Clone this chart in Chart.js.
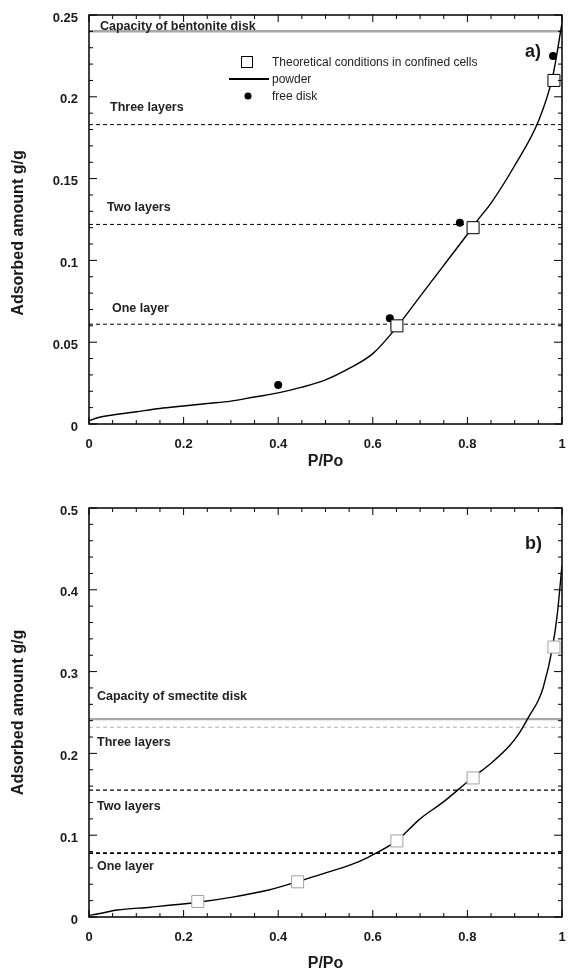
<!DOCTYPE html>
<html><head><meta charset="utf-8">
<script src="https://cdn.jsdelivr.net/npm/chart.js@4/dist/chart.umd.min.js"></script>
<style>html,body{margin:0;padding:0;background:#fff;} canvas{display:block;}</style>
</head><body>
<canvas id="ca" width="568" height="485"></canvas>
<canvas id="cb" width="568" height="486"></canvas>
<script>
// ---------- DATA ----------
const xTickLabels = ['0','0.2','0.4','0.6','0.8','1'];
const yTickLabelsA = ['0','0.05','0.1','0.15','0.2','0.25'];
const yTickLabelsB = ['0','0.1','0.2','0.3','0.4','0.5'];

// panel a)
const powderA_x = [0, 0.02, 0.05, 0.1, 0.15, 0.2, 0.25, 0.3, 0.35, 0.4, 0.45, 0.5, 0.55, 0.6, 0.65, 0.7, 0.75, 0.8, 0.82, 0.85, 0.9, 0.95, 0.98, 1.0];
const powderA_y = [0.002, 0.004, 0.0055, 0.0075, 0.0095, 0.011, 0.0125, 0.014, 0.0165, 0.019, 0.0225, 0.027, 0.034, 0.043, 0.059, 0.078, 0.097, 0.116, 0.124, 0.135, 0.158, 0.185, 0.212, 0.245];
const confinedA_x = [0.651, 0.812, 0.983];
const confinedA_y = [0.060, 0.120, 0.210];
const freeDiskA_x = [0.400, 0.636, 0.784, 0.981];
const freeDiskA_y = [0.0238, 0.0646, 0.123, 0.225];
const levelNamesA = ['Capacity of bentonite disk', 'Three layers', 'Two layers', 'One layer'];
const levelValuesA = [0.240, 0.183, 0.122, 0.061];

// panel b)
const powderB_x = [0, 0.02, 0.06, 0.13, 0.23, 0.3, 0.38, 0.44, 0.5, 0.55, 0.59, 0.65, 0.7, 0.75, 0.81, 0.85, 0.89, 0.91, 0.93, 0.95, 0.96, 0.98, 0.99, 1.0];
const powderB_y = [0.002, 0.004, 0.0085, 0.012, 0.018, 0.024, 0.033, 0.043, 0.054, 0.063, 0.073, 0.093, 0.120, 0.141, 0.170, 0.188, 0.210, 0.225, 0.245, 0.265, 0.280, 0.330, 0.370, 0.430];
const confinedB_x = [0.230, 0.441, 0.651, 0.812, 0.983];
const confinedB_y = [0.019, 0.043, 0.093, 0.170, 0.330];
const levelNamesB = ['Capacity of smectite disk', 'Three layers', 'Two layers', 'One layer'];
const levelValuesB = [0.242, 0.232, 0.155, 0.078];

// ---------- STYLE ----------
const FONT = '"Liberation Sans", Arial, Helvetica, sans-serif';
const TXT = '#1a1a1a';
const pts = (xs, ys) => xs.map((x, i) => ({x: x, y: ys[i]}));
const hline = v => [{x: 0, y: v}, {x: 1, y: v}];

const levelStylesA = [
  {borderColor: '#a8a8a8', borderWidth: 2.5, borderDash: []},
  {borderColor: '#000', borderWidth: 1, borderDash: [4, 3]},
  {borderColor: '#000', borderWidth: 1, borderDash: [4, 3]},
  {borderColor: '#000', borderWidth: 1, borderDash: [4, 3]}
];
const levelStylesB = [
  {borderColor: '#a8a8a8', borderWidth: 2.2, borderDash: []},
  {borderColor: '#b0b0b0', borderWidth: 1, borderDash: [4, 3]},
  {borderColor: '#000', borderWidth: 1.2, borderDash: [4, 3]},
  {borderColor: '#000', borderWidth: 1.8, borderDash: [4, 3]}
];
// label placement: px from chart-area left, px offset of text centre from line
const labelPlaceA = [{dx: 11, dy: -5}, {dx: 21, dy: -17}, {dx: 18, dy: -17}, {dx: 23, dy: -16}];
const labelPlaceB = [{dx: 8, dy: -22}, {dx: 8, dy: 15}, {dx: 8, dy: 16}, {dx: 8, dy: 13}];

const decorPlugin = {
  id: 'decor',
  afterDraw(chart, args, o) {
    const ctx = chart.ctx, a = chart.chartArea;
    const xs = chart.scales.x, ys = chart.scales.y;
    ctx.save();
    // level labels
    ctx.font = 'bold 12.5px ' + FONT;
    ctx.fillStyle = '#222';
    ctx.textAlign = 'left';
    ctx.textBaseline = 'middle';
    o.levelNames.forEach((t, i) => {
      const py = ys.getPixelForValue(o.levelValues[i]);
      ctx.fillText(t, a.left + o.labelPlace[i].dx, py + o.labelPlace[i].dy);
    });
    // frame
    ctx.strokeStyle = '#000';
    ctx.lineWidth = 1.5;
    ctx.setLineDash([]);
    ctx.strokeRect(a.left, a.top, a.right - a.left, a.bottom - a.top);
    // ticks (inward, all four sides)
    ctx.lineWidth = 1;
    ctx.beginPath();
    const nx = Math.round((xs.max - xs.min) / o.xMinor);
    for (let i = 0; i <= nx; i++) {
      const v = xs.min + i * o.xMinor;
      const p = xs.getPixelForValue(v);
      const major = (i % Math.round(o.xMajor / o.xMinor)) === 0;
      const L = major ? 7 : 4;
      ctx.moveTo(p, a.bottom); ctx.lineTo(p, a.bottom - L);
      ctx.moveTo(p, a.top); ctx.lineTo(p, a.top + L);
    }
    const ny = Math.round((ys.max - ys.min) / o.yMinor);
    for (let i = 0; i <= ny; i++) {
      const v = ys.min + i * o.yMinor;
      const p = ys.getPixelForValue(v);
      const major = (i % Math.round(o.yMajor / o.yMinor)) === 0;
      const L = major ? 8 : 4;
      ctx.moveTo(a.left, p); ctx.lineTo(a.left + L, p);
      ctx.moveTo(a.right, p); ctx.lineTo(a.right - L, p);
    }
    ctx.stroke();
    // panel tag
    ctx.font = 'bold 18px ' + FONT;
    ctx.fillStyle = TXT;
    ctx.textAlign = 'left';
    ctx.textBaseline = 'middle';
    ctx.fillText(o.tag, a.left + 436, a.top + o.tagDy);
    // axis titles
    ctx.font = 'bold 16px ' + FONT;
    ctx.textAlign = 'center';
    ctx.fillText('P/Po', (a.left + a.right) / 2, a.bottom + o.xTitleDy);
    ctx.save();
    ctx.translate(19, (a.top + a.bottom) / 2 + o.yTitleDy);
    ctx.rotate(-Math.PI / 2);
    ctx.fillText('Adsorbed amount g/g', 0, 0);
    ctx.restore();
    // legend
    if (o.legend) {
      const d0 = chart.data.datasets[0], d1 = chart.data.datasets[1], d2 = chart.data.datasets[2];
      const lx = a.left, ly = a.top;
      ctx.fillStyle = d0.backgroundColor; ctx.strokeStyle = d0.borderColor; ctx.lineWidth = 1;
      ctx.fillRect(lx + 152, ly + 41, 12, 12); ctx.strokeRect(lx + 152.5, ly + 41.5, 11, 11);
      ctx.strokeStyle = d2.borderColor; ctx.lineWidth = 2;
      ctx.beginPath(); ctx.moveTo(lx + 140, ly + 64); ctx.lineTo(lx + 180, ly + 64); ctx.stroke();
      ctx.fillStyle = d1.backgroundColor;
      ctx.beginPath(); ctx.arc(lx + 159, ly + 81, 3.5, 0, Math.PI * 2); ctx.fill();
      ctx.font = '12px ' + FONT; ctx.fillStyle = '#222'; ctx.textAlign = 'left'; ctx.textBaseline = 'middle';
      ctx.fillText(d0.label, lx + 183, ly + 48);
      ctx.fillText(d2.label, lx + 183, ly + 65);
      ctx.fillText(d1.label, lx + 183, ly + 82);
    }
    ctx.restore();
  }
};

function makeChart(id, cfg) {
  const datasets = [];
  datasets.push({
    label: 'Theoretical conditions in confined cells', type: 'scatter',
    data: pts(cfg.cx, cfg.cy), pointStyle: 'rect', pointRadius: 8.5,
    backgroundColor: '#fff', borderColor: cfg.squareColor, borderWidth: 1, showLine: false
  });
  datasets.push({
    label: 'free disk', type: 'scatter',
    data: pts(cfg.fx, cfg.fy), pointStyle: 'circle', pointRadius: 4,
    backgroundColor: '#000', borderColor: '#000', borderWidth: 0, showLine: false
  });
  datasets.push({
    label: 'powder', type: 'line', data: pts(cfg.px, cfg.py), showLine: true,
    borderColor: '#000', borderWidth: 1.4, pointRadius: 0, fill: false,
    cubicInterpolationMode: 'monotone'
  });
  cfg.levelValues.forEach((v, i) => {
    datasets.push(Object.assign({
      label: cfg.levelNames[i], type: 'line', data: hline(v), showLine: true,
      pointRadius: 0, fill: false, tension: 0
    }, cfg.levelStyles[i]));
  });
  return new Chart(document.getElementById(id), {
    type: 'scatter',
    data: {datasets: datasets},
    options: {
      responsive: false, animation: false, devicePixelRatio: 1,
      layout: {padding: cfg.padding, autoPadding: false},
      plugins: {
        legend: {display: false}, tooltip: {enabled: false},
        decor: {
          levelNames: cfg.levelNames, levelValues: cfg.levelValues, labelPlace: cfg.labelPlace,
          xMinor: 0.05, xMajor: 0.2, yMinor: cfg.yMinor, yMajor: cfg.yMajor,
          tag: cfg.tag, tagDy: cfg.tagDy, xTitleDy: cfg.xTitleDy, yTitleDy: cfg.yTitleDy, legend: cfg.legend
        }
      },
      scales: {
        x: {
          type: 'linear', min: 0, max: 1,
          grid: {display: false, drawTicks: false}, border: {display: false},
          ticks: {stepSize: 0.2, padding: 13, color: TXT, font: {family: FONT, size: 13, weight: 'bold'},
                  callback: (v, i) => xTickLabels[i], maxRotation: 0, autoSkip: false},
          afterFit: s => { s.height = 40; s.paddingLeft = 0; s.paddingRight = 0; }
        },
        y: {
          type: 'linear', min: 0, max: cfg.yMax,
          grid: {display: false, drawTicks: false}, border: {display: false},
          ticks: {stepSize: cfg.yMajor, padding: 11, labelOffset: 3, color: TXT,
                  font: {family: FONT, size: 13, weight: 'bold'},
                  callback: (v, i) => cfg.yLabels[i], autoSkip: false},
          afterFit: s => { s.width = 89; s.paddingTop = 0; s.paddingBottom = 0; }
        }
      }
    },
    plugins: [decorPlugin]
  });
}

makeChart('ca', {
  cx: confinedA_x, cy: confinedA_y, fx: freeDiskA_x, fy: freeDiskA_y, px: powderA_x, py: powderA_y,
  levelNames: levelNamesA, levelValues: levelValuesA, levelStyles: levelStylesA, labelPlace: labelPlaceA,
  squareColor: '#000', yMax: 0.25, yMajor: 0.05, yMinor: 0.01, yLabels: yTickLabelsA,
  padding: {top: 15, right: 6, left: 0, bottom: 21},
  tag: 'a)', tagDy: 37, xTitleDy: 38, yTitleDy: 13.5, legend: true
});
makeChart('cb', {
  cx: confinedB_x, cy: confinedB_y, fx: [], fy: [], px: powderB_x, py: powderB_y,
  levelNames: levelNamesB, levelValues: levelValuesB, levelStyles: levelStylesB, labelPlace: labelPlaceB,
  squareColor: '#a0a0a0', yMax: 0.5, yMajor: 0.1, yMinor: 0.02, yLabels: yTickLabelsB,
  padding: {top: 23, right: 6, left: 0, bottom: 14},
  tag: 'b)', tagDy: 36.5, xTitleDy: 47, yTitleDy: 0, legend: false
});
</script>
</body></html>
